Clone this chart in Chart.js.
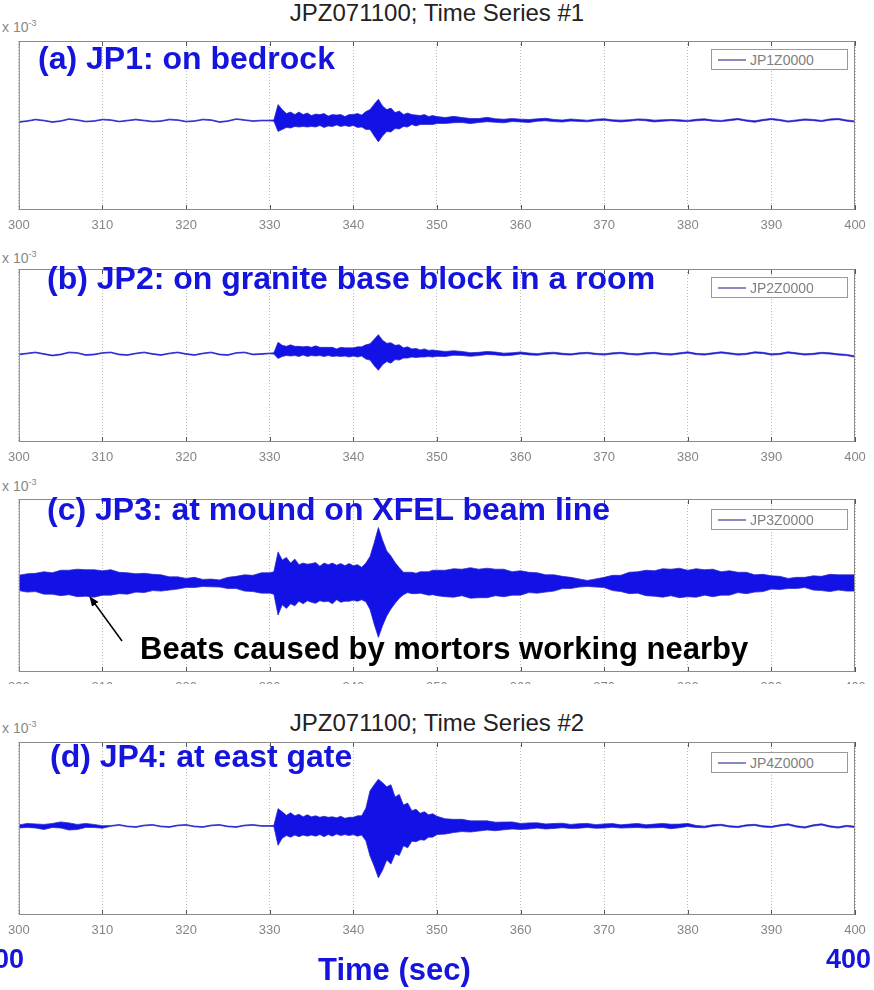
<!DOCTYPE html>
<html>
<head>
<meta charset="utf-8">
<script src="https://cdn.jsdelivr.net/npm/chart.js@4.4.1/dist/chart.umd.min.js"></script>
<style>
  html, body { margin: 0; padding: 0; background: #fff; }
  body { width: 874px; height: 990px; position: relative; overflow: hidden; font-family: "Liberation Sans", Arial, sans-serif; }
  .abs { position: absolute; white-space: nowrap; line-height: 1; }
  canvas { position: absolute; left: 0; }
  .title { font-size: 24px; color: #222; width: 874px; left: 0; text-align: center; }
  .exp { font-size: 14px; color: #888; left: 2px; }
  .exp sup { font-size: 9px; }
  .label { font-size: 32px; font-weight: bold; color: #1414dc; }
  .legend { position: absolute; left: 711px; width: 137px; height: 21px; border: 1px solid #999; background: #fff; box-sizing: border-box; }
  .legend .sample { position: absolute; left: 6px; top: 9px; width: 28px; border-top: 2px solid #8a8ac0; }
  .legend .txt { position: absolute; left: 38px; top: 3px; font-size: 14px; color: #808080; line-height: 1; }
  .note { font-size: 31px; font-weight: bold; color: #000; }
  .axis { font-size: 31px; font-weight: bold; color: #1414dc; }
</style>
</head>
<body>

<div class="abs title" style="top:1px">JPZ071100; Time Series #1</div>
<div class="abs title" style="top:711px">JPZ071100; Time Series #2</div>

<div class="abs exp" style="top:19px">x 10<sup>-3</sup></div>
<div class="abs exp" style="top:250px">x 10<sup>-3</sup></div>
<div class="abs exp" style="top:478px">x 10<sup>-3</sup></div>
<div class="abs exp" style="top:720px">x 10<sup>-3</sup></div>

<canvas id="chart-a"></canvas>
<canvas id="chart-b"></canvas>
<canvas id="chart-c"></canvas>
<canvas id="chart-d"></canvas>

<!-- panel (c) tick labels are cut off in the original -->
<div class="abs" style="left:0;top:684px;width:874px;height:26px;background:#fff"></div>

<div class="abs label" style="left:38px;top:42px">(a) JP1: on bedrock</div>
<div class="abs label" style="left:47px;top:262px">(b) JP2: on granite base block in a room</div>
<div class="abs label" style="left:47px;top:493px">(c) JP3: at mound on XFEL beam line</div>
<div class="abs label" style="left:50px;top:740px">(d) JP4: at east gate</div>

<div class="legend" style="top:49px"><div class="sample"></div><div class="txt">JP1Z0000</div></div>
<div class="legend" style="top:277px"><div class="sample"></div><div class="txt">JP2Z0000</div></div>
<div class="legend" style="top:509px"><div class="sample"></div><div class="txt">JP3Z0000</div></div>
<div class="legend" style="top:752px"><div class="sample"></div><div class="txt">JP4Z0000</div></div>

<div class="abs note" style="left:140px;top:633px">Beats caused by mortors working nearby</div>
<svg class="abs" style="left:0;top:0" width="874" height="990">
  <defs>
    <marker id="head" markerWidth="10" markerHeight="10" refX="9" refY="5" orient="auto" markerUnits="userSpaceOnUse">
      <path d="M0,1 L10,5 L0,9 z" fill="#000"/>
    </marker>
  </defs>
  <line x1="122" y1="641" x2="90" y2="597" stroke="#000" stroke-width="1.5" marker-end="url(#head)"/>
</svg>

<div class="abs axis" style="left:-21px;top:946px;font-size:27px">300</div>
<div class="abs axis" style="left:826px;top:946px;font-size:27px">400</div>
<div class="abs axis" style="left:318px;top:954px">Time (sec)</div>

<script>
const T_START = 300;
const T_END = 400;
const X_TICKS = [300, 310, 320, 330, 340, 350, 360, 370, 380, 390, 400];

// Sample times (s): 1 s steps, 0.5 s steps through the quake (330-350)
const TIMES = [
    300, 301, 302, 303, 304, 305, 306, 307, 308, 309,
    310, 311, 312, 313, 314, 315, 316, 317, 318, 319,
    320, 321, 322, 323, 324, 325, 326, 327, 328, 329, 330,
    330.5, 331, 331.5, 332, 332.5, 333, 333.5, 334, 334.5, 335,
    335.5, 336, 336.5, 337, 337.5, 338, 338.5, 339, 339.5, 340,
    340.5, 341, 341.5, 342, 342.5, 343, 343.5, 344, 344.5, 345,
    345.5, 346, 346.5, 347, 347.5, 348, 348.5, 349, 349.5, 350,
    351, 352, 353, 354, 355, 356, 357, 358, 359,
    360, 361, 362, 363, 364, 365, 366, 367, 368, 369,
    370, 371, 372, 373, 374, 375, 376, 377, 378, 379,
    380, 381, 382, 383, 384, 385, 386, 387, 388, 389,
    390, 391, 392, 393, 394, 395, 396, 397, 398, 399, 400
];

// (a) JP1 - centre of the trace and half-width of the oscillation band (x10^-3)
const centerA = [
    0.35, 0.45, 0.6, 0.5, 0.35, 0.45, 0.65, 0.55, 0.4, 0.45,
    0.6, 0.55, 0.4, 0.5, 0.6, 0.5, 0.4, 0.45, 0.6, 0.55,
    0.4, 0.45, 0.6, 0.55, 0.35, 0.45, 0.65, 0.55, 0.45, 0.5, 0.5,
    0.5, 0.75, 0.6, 0.5, 0.55, 0.5, 0.6, 0.5, 0.55, 0.45,
    0.5, 0.55, 0.5, 0.45, 0.5, 0.55, 0.5, 0.45, 0.5, 0.55,
    0.5, 0.45, 0.5, 0.6, 0.55, 0.5, 0.45, 0.5, 0.55, 0.5,
    0.55, 0.5, 0.55, 0.6, 0.5, 0.55, 0.6, 0.5, 0.55, 0.55,
    0.5, 0.6, 0.55, 0.45, 0.5, 0.6, 0.5, 0.45, 0.55,
    0.5, 0.45, 0.55, 0.6, 0.5, 0.45, 0.55, 0.5, 0.45, 0.55,
    0.6, 0.5, 0.45, 0.5, 0.6, 0.55, 0.45, 0.5, 0.55, 0.5,
    0.45, 0.55, 0.6, 0.5, 0.45, 0.55, 0.65, 0.5, 0.4, 0.55,
    0.65, 0.55, 0.4, 0.5, 0.6, 0.55, 0.45, 0.6, 0.65, 0.5, 0.4
];
const spreadA = [
    0.04, 0.04, 0.04, 0.04, 0.04, 0.04, 0.04, 0.04, 0.04, 0.04,
    0.04, 0.04, 0.04, 0.04, 0.04, 0.04, 0.04, 0.04, 0.04, 0.04,
    0.04, 0.04, 0.04, 0.04, 0.04, 0.04, 0.04, 0.04, 0.04, 0.04, 0.04,
    0.06, 1.35, 1.0, 0.7, 0.8, 0.6, 0.75, 0.6, 0.7, 0.55,
    0.65, 0.55, 0.7, 0.5, 0.6, 0.5, 0.6, 0.45, 0.6, 0.55,
    0.7, 0.6, 0.9, 1.0, 1.6, 2.15, 1.5, 1.1, 1.2, 0.8,
    0.9, 0.6, 0.7, 0.5, 0.55, 0.45, 0.5, 0.4, 0.45, 0.35,
    0.3, 0.32, 0.25, 0.26, 0.2, 0.22, 0.18, 0.18, 0.15,
    0.14, 0.15, 0.12, 0.13, 0.11, 0.1, 0.1, 0.09, 0.08, 0.08,
    0.08, 0.07, 0.09, 0.07, 0.06, 0.08, 0.09, 0.07, 0.06, 0.07,
    0.06, 0.08, 0.07, 0.06, 0.06, 0.07, 0.06, 0.06, 0.07, 0.06,
    0.06, 0.06, 0.06, 0.06, 0.06, 0.06, 0.06, 0.06, 0.06, 0.06, 0.06
];

// (b) JP2
const centerB = [
    0.1, 0.2, 0.3, 0.15, 0.0, 0.1, 0.3, 0.25, 0.05, 0.1,
    0.25, 0.3, 0.1, 0.05, 0.2, 0.3, 0.15, 0.05, 0.2, 0.3,
    0.15, 0.05, 0.2, 0.3, 0.1, 0.05, 0.25, 0.3, 0.1, 0.15, 0.2,
    0.2, 0.5, 0.45, 0.45, 0.5, 0.45, 0.4, 0.45, 0.4, 0.4,
    0.45, 0.4, 0.35, 0.4, 0.35, 0.3, 0.35, 0.35, 0.3, 0.35,
    0.35, 0.4, 0.35, 0.35, 0.3, 0.3, 0.3, 0.3, 0.25, 0.3,
    0.3, 0.25, 0.3, 0.25, 0.25, 0.2, 0.25, 0.2, 0.2, 0.2,
    0.15, 0.25, 0.2, 0.1, 0.15, 0.25, 0.2, 0.1, 0.15,
    0.25, 0.15, 0.1, 0.2, 0.25, 0.15, 0.1, 0.2, 0.25, 0.15,
    0.1, 0.2, 0.25, 0.15, 0.1, 0.2, 0.25, 0.15, 0.1, 0.2,
    0.3, 0.15, 0.1, 0.2, 0.3, 0.2, 0.1, 0.15, 0.3, 0.25,
    0.1, 0.15, 0.3, 0.2, 0.1, 0.15, 0.25, 0.2, 0.1, 0.05, -0.1
];
const spreadB = [
    0.04, 0.04, 0.04, 0.04, 0.04, 0.04, 0.04, 0.04, 0.04, 0.04,
    0.04, 0.04, 0.04, 0.04, 0.04, 0.04, 0.04, 0.04, 0.04, 0.04,
    0.04, 0.04, 0.04, 0.04, 0.04, 0.04, 0.04, 0.04, 0.04, 0.04, 0.04,
    0.06, 0.8, 0.55, 0.45, 0.55, 0.45, 0.5, 0.4, 0.5, 0.4,
    0.5, 0.4, 0.45, 0.4, 0.45, 0.35, 0.45, 0.4, 0.45, 0.4,
    0.5, 0.45, 0.7, 0.8, 1.3, 1.75, 1.2, 0.9, 1.0, 0.7,
    0.75, 0.5, 0.55, 0.4, 0.45, 0.35, 0.4, 0.3, 0.35, 0.28,
    0.25, 0.22, 0.2, 0.18, 0.16, 0.15, 0.14, 0.13, 0.12,
    0.1, 0.09, 0.08, 0.08, 0.07, 0.07, 0.06, 0.06, 0.06, 0.06,
    0.06, 0.06, 0.06, 0.06, 0.06, 0.06, 0.06, 0.06, 0.06, 0.06,
    0.06, 0.06, 0.06, 0.06, 0.06, 0.06, 0.06, 0.06, 0.06, 0.06,
    0.06, 0.06, 0.06, 0.06, 0.06, 0.06, 0.06, 0.06, 0.06, 0.06, 0.06
];

// (c) JP3 - beating from nearby motors
const centerC = [
    0.25, 0.25, 0.3, 0.25, 0.2, 0.25, 0.3, 0.25, 0.25, 0.2,
    0.25, 0.3, 0.25, 0.2, 0.25, 0.25, 0.3, 0.25, 0.2, 0.25,
    0.25, 0.3, 0.25, 0.25, 0.2, 0.25, 0.3, 0.25, 0.2, 0.25, 0.25,
    0.25, 0.2, 0.3, 0.25, 0.2, 0.3, 0.25, 0.2, 0.3, 0.25,
    0.25, 0.2, 0.3, 0.25, 0.2, 0.3, 0.25, 0.2, 0.3, 0.25,
    0.25, 0.2, 0.3, 0.25, 0.2, 0.3, 0.25, 0.2, 0.3, 0.25,
    0.25, 0.2, 0.3, 0.25, 0.2, 0.3, 0.25, 0.2, 0.3, 0.25,
    0.2, 0.25, 0.3, 0.25, 0.2, 0.25, 0.3, 0.25, 0.2,
    0.25, 0.3, 0.25, 0.2, 0.25, 0.3, 0.25, 0.25, 0.2, 0.25,
    0.3, 0.25, 0.2, 0.25, 0.3, 0.25, 0.2, 0.25, 0.3, 0.25,
    0.2, 0.25, 0.3, 0.25, 0.2, 0.25, 0.3, 0.25, 0.2, 0.25,
    0.3, 0.25, 0.2, 0.25, 0.3, 0.25, 0.2, 0.25, 0.3, 0.25, 0.25
];
const spreadC = [
    0.75, 0.9, 0.9, 1.1, 1.05, 1.25, 1.2, 1.35, 1.3, 1.35,
    1.2, 1.25, 1.05, 1.05, 0.9, 0.95, 0.8, 0.8, 0.65, 0.6,
    0.45, 0.5, 0.35, 0.38, 0.35, 0.55, 0.6, 0.8, 0.8, 1.0, 1.0,
    1.1, 3.1, 2.2, 2.5, 2.0, 2.3, 1.8, 2.0, 1.8, 1.9,
    2.0, 1.7, 1.9, 1.8, 2.0, 1.7, 1.9, 1.75, 1.85, 1.7,
    1.8, 1.6, 1.9, 2.6, 4.0, 5.4, 4.2, 3.2, 2.6, 2.0,
    1.5, 1.1, 1.0, 1.05, 1.0, 1.05, 1.1, 1.15, 1.2, 1.25,
    1.3, 1.4, 1.3, 1.5, 1.4, 1.45, 1.3, 1.35, 1.15,
    1.2, 1.0, 1.0, 0.85, 0.8, 0.6, 0.55, 0.4, 0.3, 0.4,
    0.5, 0.75, 0.8, 1.05, 1.05, 1.25, 1.25, 1.4, 1.3, 1.45,
    1.3, 1.4, 1.25, 1.35, 1.15, 1.2, 1.0, 1.05, 0.85, 0.85,
    0.65, 0.65, 0.5, 0.55, 0.5, 0.7, 0.7, 0.85, 0.75, 0.8, 0.8
];

// (d) JP4
const centerD = [
    0.2, 0.3, 0.25, 0.15, 0.3, 0.35, 0.2, 0.15, 0.3, 0.25,
    0.15, 0.25, 0.35, 0.2, 0.15, 0.3, 0.35, 0.2, 0.15, 0.3,
    0.35, 0.2, 0.15, 0.3, 0.35, 0.2, 0.15, 0.3, 0.35, 0.25, 0.25,
    0.25, 0.15, 0.35, 0.3, 0.35, 0.3, 0.3, 0.25, 0.3, 0.25,
    0.25, 0.25, 0.2, 0.25, 0.2, 0.25, 0.25, 0.2, 0.2, 0.25,
    0.25, 0.3, 0.4, 0.5, 0.3, 0.0, 0.2, 0.5, 0.4, 0.3,
    0.35, 0.3, 0.3, 0.25, 0.3, 0.2, 0.25, 0.25, 0.3, 0.3,
    0.2, 0.25, 0.3, 0.2, 0.25, 0.3, 0.2, 0.25, 0.3,
    0.2, 0.25, 0.3, 0.2, 0.25, 0.3, 0.2, 0.25, 0.3, 0.2,
    0.25, 0.3, 0.2, 0.25, 0.3, 0.2, 0.25, 0.3, 0.2, 0.25,
    0.35, 0.2, 0.15, 0.3, 0.35, 0.2, 0.15, 0.3, 0.35, 0.2,
    0.15, 0.3, 0.4, 0.2, 0.1, 0.3, 0.4, 0.2, 0.1, 0.25, 0.15
];
const spreadD = [
    0.15, 0.2, 0.2, 0.25, 0.2, 0.3, 0.35, 0.25, 0.2, 0.15,
    0.12, 0.04, 0.04, 0.04, 0.04, 0.04, 0.04, 0.04, 0.04, 0.04,
    0.04, 0.04, 0.04, 0.04, 0.04, 0.04, 0.04, 0.04, 0.04, 0.04, 0.04,
    0.06, 1.8, 1.3, 1.0, 1.2, 0.95, 1.1, 0.9, 1.05, 0.9,
    1.0, 0.85, 1.0, 0.85, 0.95, 0.8, 0.95, 0.8, 0.9, 0.85,
    1.0, 0.95, 1.6, 3.2, 4.0, 4.85, 4.3, 3.6, 3.9, 2.8,
    3.0, 2.0, 2.2, 1.5, 1.6, 1.3, 1.4, 1.1, 1.15, 0.9,
    0.75, 0.65, 0.6, 0.55, 0.5, 0.45, 0.42, 0.38, 0.35,
    0.3, 0.3, 0.26, 0.25, 0.24, 0.22, 0.2, 0.22, 0.2, 0.18,
    0.2, 0.18, 0.16, 0.18, 0.2, 0.16, 0.18, 0.2, 0.22, 0.18,
    0.15, 0.1, 0.08, 0.07, 0.06, 0.06, 0.06, 0.06, 0.06, 0.06,
    0.06, 0.06, 0.06, 0.06, 0.06, 0.06, 0.06, 0.06, 0.06, 0.06, 0.06
];

const TRACE_FILL = '#1212e6';
const TRACE_EDGE = 'rgba(40, 40, 200, 0.75)';

/**
 * Draws the MATLAB style box and the inner tick marks
 */
const framePlugin = {
    id: 'frame',
    afterDraw(chart) {
        const { ctx, chartArea: a, scales } = chart;
        ctx.save();
        ctx.strokeStyle = '#555';
        ctx.lineWidth = 1;
        X_TICKS.forEach(v => {
            const x = Math.round(scales.x.getPixelForValue(v)) + 0.5;
            ctx.beginPath();
            ctx.moveTo(x, a.top);
            ctx.lineTo(x, a.top + 5);
            ctx.moveTo(x, a.bottom);
            ctx.lineTo(x, a.bottom - 5);
            ctx.stroke();
        });
        ctx.strokeStyle = '#8c8c8c';
        ctx.strokeRect(a.left + 0.5, a.top + 0.5, a.right - a.left - 1, a.bottom - a.top - 1);
        ctx.restore();
    }
};

/**
 * Build one panel: a filled band between centre+spread and centre-spread
 */
function makePanel(id, plotTop, plotBottom, center, spread) {
    const canvas = document.getElementById(id);
    const axisHeight = 30;
    canvas.width = 874;
    canvas.height = plotBottom - plotTop + 2 + axisHeight;
    canvas.style.top = (plotTop - 2) + 'px';

    const upper = TIMES.map((t, i) => ({ x: t, y: center[i] + spread[i] }));
    const lower = TIMES.map((t, i) => ({ x: t, y: center[i] - spread[i] }));

    return new Chart(canvas.getContext('2d'), {
        type: 'line',
        data: {
            datasets: [
                { data: upper, borderColor: TRACE_EDGE, borderWidth: 1, pointRadius: 0, fill: false },
                { data: lower, borderColor: TRACE_EDGE, borderWidth: 1, pointRadius: 0, fill: '-1', backgroundColor: TRACE_FILL }
            ]
        },
        options: {
            responsive: false,
            devicePixelRatio: 1,
            animation: false,
            layout: { padding: { top: 2, left: 17, right: 19, bottom: 0 } },
            scales: {
                x: {
                    type: 'linear',
                    min: T_START,
                    max: T_END,
                    afterBuildTicks(scale) { scale.ticks = X_TICKS.map(v => ({ value: v })); },
                    afterFit(scale) { scale.height = axisHeight; },
                    border: { display: false, dash: [1, 2] },
                    grid: { color: '#bdbdbd', drawTicks: false },
                    ticks: { color: '#858585', padding: 8, font: { family: '"Liberation Sans", Arial', size: 13 }, maxRotation: 0 }
                },
                y: { display: false, min: -8.5, max: 8.5 }
            },
            plugins: { legend: { display: false }, tooltip: { enabled: false } }
        },
        plugins: [framePlugin]
    });
}

makePanel('chart-a', 41, 210, centerA, spreadA);
makePanel('chart-b', 269, 442, centerB, spreadB);
makePanel('chart-c', 499, 672, centerC, spreadC);
makePanel('chart-d', 742, 915, centerD, spreadD);
</script>
</body>
</html>
